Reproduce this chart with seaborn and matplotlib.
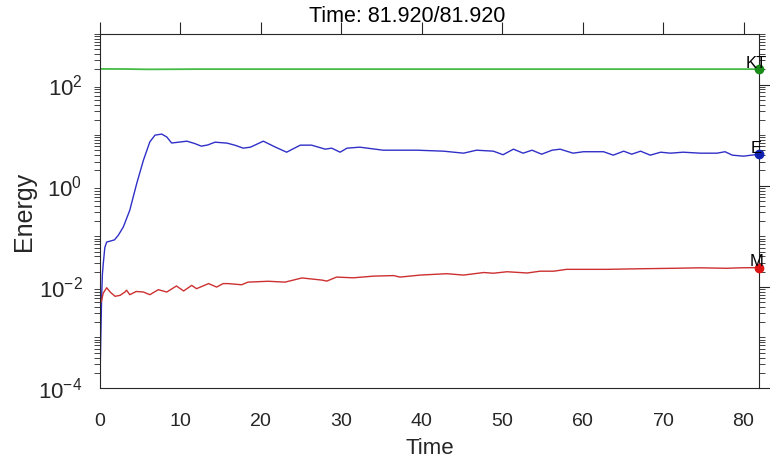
import numpy as np
import pandas as pd
import matplotlib
matplotlib.use("Agg")
import matplotlib.pyplot as plt
import seaborn as sns
from matplotlib.ticker import LogLocator, FixedLocator, NullFormatter, LogFormatterSciNotation

# ---------------- data ----------------
t_E = [0, 0.1, 0.2, 0.3, 0.41, 0.6, 0.83, 1.24, 1.8, 2.28, 2.9, 3.7, 4.56, 5.4, 6.2,
       6.84, 7.66, 8.3, 8.9, 9.6, 10.8, 11.8, 12.6, 13.4, 14.3, 15.8, 16.8, 17.8, 18.7,
       20.3, 21.8, 23.2, 24.9, 26.3, 28.0, 28.8, 29.85, 30.7, 32.3, 35.2, 39.4, 42.7,
       45.2, 46.8, 48.9, 50.1, 51.4, 52.6, 53.7, 54.9, 56.2, 57.2, 58.8, 60.1, 62.6,
       63.8, 65.1, 66.1, 67.2, 68.4, 69.7, 70.9, 72.5, 74.6, 76.7, 77.7, 78.6, 80.0,
       81.92]
E_vals = [1.5e-4, 1.0e-3, 6.0e-3, 0.018, 0.029, 0.06, 0.077, 0.08, 0.085, 0.105, 0.153,
          0.327, 1.1, 3.2, 7.4, 10.0, 10.5, 9.2, 7.0, 7.2, 7.6, 6.8, 6.05, 6.4, 7.26,
          6.95, 6.3, 5.53, 5.78, 7.6, 5.8, 4.6, 6.34, 6.34, 5.28, 5.53, 4.6, 5.53, 5.78,
          5.04, 5.04, 4.82, 4.4, 5.04, 4.82, 4.1, 5.28, 4.4, 5.04, 4.2, 5.04, 5.28, 4.4,
          4.7, 4.7, 4.02, 4.82, 4.2, 4.82, 4.02, 4.6, 4.4, 4.6, 4.4, 4.4, 4.7, 4.02,
          3.84, 4.2]

t_M = [0.15, 0.4, 0.83, 1.3, 1.87, 2.5, 3.1, 3.3, 3.7, 4.5, 5.4, 6.2, 7.25, 8.3, 9.5,
       10.4, 11.4, 12.0, 13.5, 14.5, 15.3, 15.95, 17.6, 18.4, 20.9, 23.0, 25.1,
       27.6, 28.2, 29.4, 31.5, 34.0, 36.5, 37.3, 39.8, 43.1, 45.2, 47.7, 48.9,
       50.6, 53.1, 54.7, 56.4, 58.0, 63.0, 67.2, 71.3, 74.6, 77.9, 79.6, 81.92]
M_vals = [0.005, 0.0075, 0.0096, 0.0078, 0.0065, 0.0068, 0.0079, 0.0086, 0.007, 0.0081,
          0.0079, 0.007, 0.0088, 0.0079, 0.0104, 0.0083, 0.0107, 0.0092, 0.0116,
          0.0099, 0.0116, 0.0116, 0.011, 0.0124, 0.0129, 0.0124, 0.015, 0.0136,
          0.013, 0.0156, 0.0151, 0.0163, 0.0167, 0.0156, 0.0171, 0.0182, 0.0171,
          0.0192, 0.0186, 0.0199, 0.0188, 0.0204, 0.0204, 0.0222, 0.0222, 0.0228,
          0.0233, 0.0238, 0.0233, 0.0238, 0.024]

t_KT = [0, 3, 6, 9, 12, 20, 40, 60, 81.92]
KT_vals = [204, 203, 200, 201, 202, 202, 202, 202, 202]

x_ticks = [0, 10, 20, 30, 40, 50, 60, 70, 80]
y_major = [1e-4, 1e-2, 1e0, 1e2]
t_end = 81.92
title_text = "Time: 81.920/81.920"

# ---------------- style ----------------
sns.set_theme(style="white")
plt.rcParams["font.family"] = ["Liberation Sans", "DejaVu Sans"]
plt.rcParams["mathtext.fontset"] = "custom"
plt.rcParams["mathtext.rm"] = "Liberation Sans"
plt.rcParams["mathtext.it"] = "Liberation Sans:italic"
plt.rcParams["mathtext.bf"] = "Liberation Sans:bold"
plt.rcParams["axes.formatter.use_mathtext"] = True

fig = plt.figure(figsize=(7.7, 4.62), dpi=100)
ax = fig.add_axes([100 / 770, 1 - 388 / 462, 659 / 770, 354 / 462])

dfE = pd.DataFrame({"t": t_E, "v": E_vals})
dfM = pd.DataFrame({"t": t_M, "v": M_vals})
dfK = pd.DataFrame({"t": t_KT, "v": KT_vals})

c_kt, c_e, c_m = "#44bb44", "#3030c8", "#cc3030"
sns.lineplot(data=dfK, x="t", y="v", ax=ax, color=c_kt, lw=1.3)
sns.lineplot(data=dfE, x="t", y="v", ax=ax, color=c_e, lw=1.0)
sns.lineplot(data=dfM, x="t", y="v", ax=ax, color=c_m, lw=1.0)

ax.set_yscale("log")
ax.set_xlim(0, t_end)
ax.set_ylim(1e-4, 1e3)

# end markers and labels
for tv, yv, col, lab in [(t_KT[-1], KT_vals[-1], "#1a8c1a", "KT"),
                          (t_E[-1], E_vals[-1], "#1020b0", "E"),
                          (t_M[-1], M_vals[-1], "#dd1515", "M")]:
    ax.plot([tv], [yv], "o", color=col, ms=6, clip_on=False, zorder=5)
    ax.annotate(lab, (tv, yv), xytext=(-2, -1), textcoords="offset points",
                ha="center", va="bottom", fontsize=12, color="black",
                annotation_clip=False, zorder=6)

ax.set_xticks(x_ticks)
ax.yaxis.set_major_locator(FixedLocator(y_major))
ax.yaxis.set_major_formatter(LogFormatterSciNotation())
ax.yaxis.set_minor_locator(LogLocator(base=10, subs=np.arange(1, 10), numticks=100))
ax.yaxis.set_minor_formatter(NullFormatter())

tick_col = "#262626"
ax.tick_params(axis="both", which="major", direction="out", length=8.6, width=0.8,
               color=tick_col, labelcolor=tick_col,
               top=True, right=True, labeltop=False, labelright=False)
ax.tick_params(axis="x", which="major", labelsize=14, pad=9.5)
ax.tick_params(axis="y", which="major", labelsize=16, pad=4)
ax.tick_params(axis="y", which="minor", direction="out", length=4.3, width=0.6,
               color=tick_col, left=True, right=True)
for s in ax.spines.values():
    s.set_color(tick_col)
    s.set_linewidth(0.8)

ax.set_xlabel("Time", fontsize=16, color=tick_col, labelpad=6)
ax.set_ylabel("Energy", fontsize=18, color=tick_col, labelpad=2)
ax.grid(False)

fig.text(407 / 770, 1 - 17 / 462, title_text, ha="center", va="center",
         fontsize=15.5, color="black")

fig.savefig("out.png", dpi=100)
